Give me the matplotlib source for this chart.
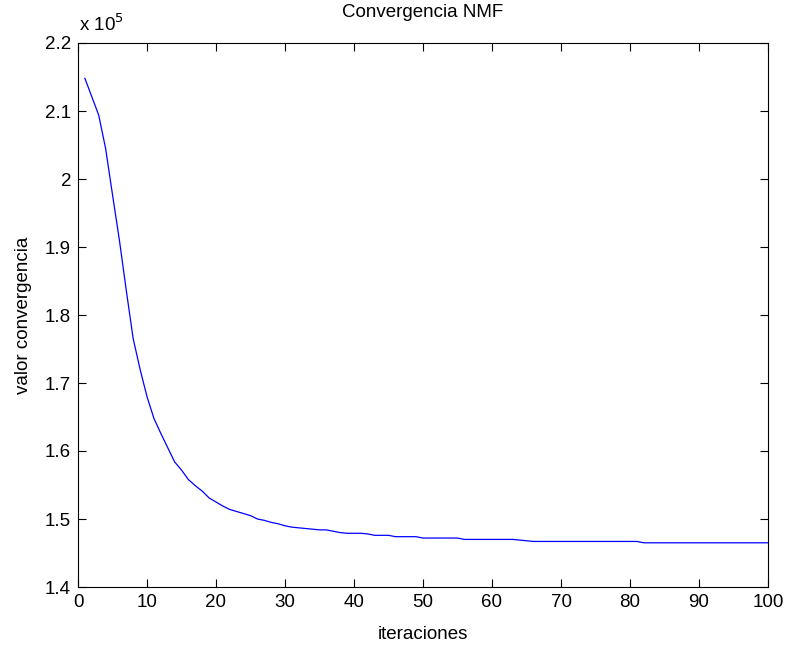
import matplotlib
matplotlib.use("Agg")
import matplotlib.pyplot as plt
from matplotlib.ticker import FuncFormatter

plt.rcParams['font.family'] = ['Liberation Sans', 'DejaVu Sans']

iteraciones = list(range(1, 101))
valores_e5 = [
    2.148, 2.121, 2.094, 2.045, 1.977, 1.910, 1.836, 1.765, 1.720, 1.680,
    1.648, 1.626, 1.605, 1.584, 1.572, 1.558, 1.549, 1.541, 1.531, 1.525,
    1.519, 1.514, 1.511, 1.508, 1.505, 1.500, 1.498, 1.495, 1.493, 1.490,
    1.488, 1.487, 1.486, 1.485, 1.484, 1.484, 1.482, 1.480, 1.479, 1.479,
    1.479, 1.478, 1.476, 1.476, 1.476, 1.474, 1.474, 1.474, 1.474, 1.472,
    1.472, 1.472, 1.472, 1.472, 1.472, 1.470, 1.470, 1.470, 1.470, 1.470,
    1.470, 1.470, 1.470, 1.469, 1.468, 1.467, 1.467, 1.467, 1.467, 1.467,
    1.467, 1.467, 1.467, 1.467, 1.467, 1.467, 1.467, 1.467, 1.467, 1.467,
    1.467, 1.465, 1.465, 1.465, 1.465, 1.465, 1.465, 1.465, 1.465, 1.465,
    1.465, 1.465, 1.465, 1.465, 1.465, 1.465, 1.465, 1.465, 1.465, 1.465,
]
valores = [v * 1e5 for v in valores_e5]
xticks = list(range(0, 101, 10))
yticks_e5 = [1.4, 1.5, 1.6, 1.7, 1.8, 1.9, 2.0, 2.1, 2.2]

fig = plt.figure(figsize=(7.89, 6.46), dpi=100)
ax = fig.add_axes([78/789, 1-587/646, (768-78)/789, (587-43)/646])
ax.plot(iteraciones, valores, color='#0000ff', linewidth=0.9)
ax.set_xlim(0, 100)
ax.set_ylim(1.4e5, 2.2e5)
ax.set_xticks(xticks)
ax.set_yticks([v * 1e5 for v in yticks_e5])
ax.yaxis.set_major_formatter(FuncFormatter(lambda v, p: f"{v/1e5:g}"))
ax.tick_params(direction='in', top=True, right=True, length=6, width=0.8,
               labelsize=13.5, pad=5)
for s in ax.spines.values():
    s.set_linewidth(0.8)
ax.set_title('Convergencia NMF', fontsize=13.5, pad=19)
ax.set_xlabel('iteraciones', fontsize=13.5, labelpad=11)
ax.set_ylabel('valor convergencia', fontsize=13.5, labelpad=9)
fig.text(79/789, 1-31/646, r'x 10$^5$', fontsize=13.5, ha='left', va='baseline')
fig.savefig('out.png', dpi=100)
